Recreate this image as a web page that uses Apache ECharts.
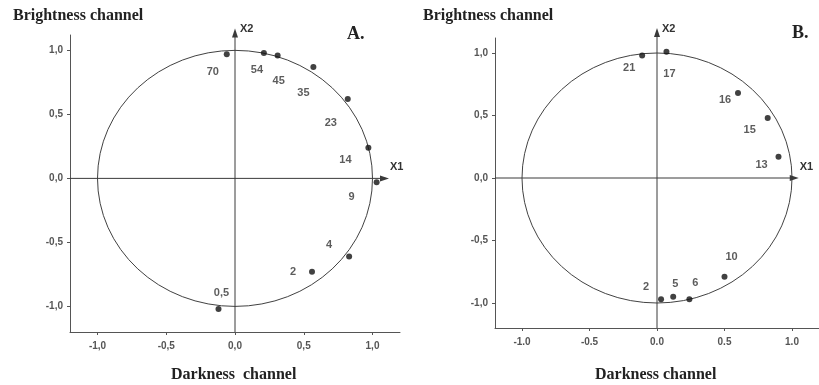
<!DOCTYPE html>
<html>
<head>
<meta charset="utf-8">
<script src="https://cdn.jsdelivr.net/npm/echarts@6/dist/echarts.min.js"></script>
<style>
html, body { margin: 0; padding: 0; background: #fff; }
#c { width: 819px; height: 385px; }
</style>
</head>
<body>
<div id="c"></div>
<script>
// Tick positions and their printed text
const TICKS = [-1, -0.5, 0, 0.5, 1];
const TICK_TEXT_COMMA = ['-1,0', '-0,5', '0,0', '0,5', '1,0'];
const TICK_TEXT_DOT = ['-1.0', '-0.5', '0.0', '0.5', '1.0'];

// Panel A: loadings on X1 (darkness) and X2 (brightness)
const labelsA = ['70', '54', '45', '35', '23', '14', '9', '4', '2', '0,5'];
const x1A = [-0.06, 0.21, 0.31, 0.57, 0.82, 0.97, 1.03, 0.83, 0.56, -0.12];
const x2A = [0.97, 0.98, 0.96, 0.87, 0.62, 0.24, -0.03, -0.61, -0.73, -1.02];

// Panel B
const labelsB = ['21', '17', '16', '15', '13', '10', '6', '5', '2'];
const x1B = [-0.11, 0.07, 0.60, 0.82, 0.90, 0.50, 0.24, 0.12, 0.03];
const x2B = [0.98, 1.01, 0.68, 0.48, 0.17, -0.79, -0.97, -0.95, -0.97];

// Pixel nudges for the point labels
const nudgeA = [[-14, 18], [-7, 17], [1, 25], [-10, 26], [-17, 24], [-23, 12], [-25, 15], [-20, -12], [-19, 0], [3, -16]];
const nudgeB = [[-13, 12], [3, 22], [-13, 7], [-18, 12], [-17, 8], [7, -20], [6, -16], [2, -13], [-15, -12]];

// Where the X1 / X2 arrows end, in axis units
const arrowEndsA = [1.12, 1.17];
const arrowEndsB = [1.05, 1.20];

const INK = '#3a3a3a';
const AXIS_INK = '#555';
const SERIF = '"Liberation Serif", "DejaVu Serif", serif';
const SANS = '"Liberation Sans", Arial, sans-serif';

function tickFormatter(texts) {
  return function (v) {
    const i = TICKS.findIndex(t => Math.abs(t - v) < 1e-6);
    return i >= 0 ? texts[i] : '';
  };
}

function xAxisFor(gridIndex, texts) {
  return {
    type: 'value', gridIndex, min: -1.2, max: 1.2,
    axisLine: { onZero: false, lineStyle: { color: AXIS_INK, width: 1 } },
    axisTick: { customValues: TICKS, length: 3, lineStyle: { color: AXIS_INK } },
    axisLabel: { customValues: TICKS, formatter: tickFormatter(texts), margin: 9,
      color: '#555', fontSize: 10, fontWeight: 'bold', fontFamily: SANS },
    splitLine: { show: false }
  };
}

function yAxisFor(gridIndex, texts) {
  return {
    type: 'value', gridIndex, min: -1.2, max: 1.12,
    axisLine: { onZero: false, lineStyle: { color: AXIS_INK, width: 1 } },
    axisTick: { customValues: TICKS, length: 3, lineStyle: { color: AXIS_INK } },
    axisLabel: { customValues: TICKS, formatter: tickFormatter(texts), margin: 7,
      color: '#555', fontSize: 10, fontWeight: 'bold', fontFamily: SANS },
    splitLine: { show: false }
  };
}

// Unit circle plus the X1 / X2 arrows through the origin
function planeRenderer(ends) {
  return function (params, api) {
    const o = api.coord([0, 0]);
    const rx = api.size([1, 0])[0];
    const ry = api.size([0, 1])[1];
    const left = api.coord([-1.2, 0]);
    const right = api.coord([ends[0], 0]);
    const bottom = api.coord([0, -1.2]);
    const top = api.coord([0, ends[1]]);
    const textStyle = { fill: '#333', font: 'bold 11px ' + SANS };
    return {
      type: 'group',
      children: [
        { type: 'circle', x: o[0], y: o[1], scaleY: ry / rx,
          shape: { cx: 0, cy: 0, r: rx },
          style: { fill: 'none', stroke: INK, lineWidth: 1, strokeNoScale: true } },
        { type: 'line', shape: { x1: left[0], y1: left[1], x2: right[0] - 3, y2: right[1] },
          style: { stroke: INK, lineWidth: 1 } },
        { type: 'polygon', shape: { points: [[right[0], right[1]], [right[0] - 9, right[1] - 3], [right[0] - 9, right[1] + 3]] },
          style: { fill: INK } },
        { type: 'line', shape: { x1: bottom[0], y1: bottom[1], x2: top[0], y2: top[1] + 3 },
          style: { stroke: INK, lineWidth: 1 } },
        { type: 'polygon', shape: { points: [[top[0], top[1]], [top[0] - 3, top[1] + 9], [top[0] + 3, top[1] + 9]] },
          style: { fill: INK } },
        { type: 'text', x: right[0] + 1, y: right[1] - 17, style: Object.assign({ text: 'X1' }, textStyle) },
        { type: 'text', x: top[0] + 5, y: top[1] - 5, style: Object.assign({ text: 'X2' }, textStyle) }
      ]
    };
  };
}

function pointsSeries(idx, xs, ys, names, nudges) {
  return {
    type: 'scatter', xAxisIndex: idx, yAxisIndex: idx,
    symbol: 'circle', symbolSize: 6,
    itemStyle: { color: '#111' },
    data: xs.map((x, i) => ({
      name: names[i], value: [x, ys[i]],
      label: { offset: nudges[i] }
    })),
    label: {
      show: true, position: 'inside', formatter: '{b}',
      color: '#333', fontSize: 11, fontWeight: 'bold', fontFamily: SANS
    },
    z: 3
  };
}

const chart = echarts.init(document.getElementById('c'));
chart.setOption({
  animation: false,
  backgroundColor: '#fff',
  grid: [
    { left: 70, top: 35, width: 330, height: 297 },
    { left: 495, top: 38, width: 330, height: 290 }
  ],
  xAxis: [xAxisFor(0, TICK_TEXT_COMMA), xAxisFor(1, TICK_TEXT_DOT)],
  yAxis: [yAxisFor(0, TICK_TEXT_COMMA), yAxisFor(1, TICK_TEXT_COMMA)],
  series: [
    { type: 'custom', xAxisIndex: 0, yAxisIndex: 0, data: [[0, 0]], silent: true,
      renderItem: planeRenderer(arrowEndsA), z: 1 },
    { type: 'custom', xAxisIndex: 1, yAxisIndex: 1, data: [[0, 0]], silent: true,
      renderItem: planeRenderer(arrowEndsB), z: 1 },
    pointsSeries(0, x1A, x2A, labelsA, nudgeA),
    pointsSeries(1, x1B, x2B, labelsB, nudgeB)
  ],
  graphic: [
    { type: 'text', left: 13, top: 8, style: { text: 'Brightness channel', font: 'bold 16px ' + SERIF, fill: '#222' } },
    { type: 'text', left: 423, top: 8, style: { text: 'Brightness channel', font: 'bold 16px ' + SERIF, fill: '#222' } },
    { type: 'text', left: 171, top: 367, style: { text: 'Darkness  channel', font: 'bold 16px ' + SERIF, fill: '#222' } },
    { type: 'text', left: 595, top: 367, style: { text: 'Darkness channel', font: 'bold 16px ' + SERIF, fill: '#222' } },
    { type: 'text', left: 347, top: 25, style: { text: 'A.', font: 'bold 18px ' + SERIF, fill: '#222' } },
    { type: 'text', left: 792, top: 24, style: { text: 'B.', font: 'bold 18px ' + SERIF, fill: '#222' } }
  ]
});
</script>
</body>
</html>
